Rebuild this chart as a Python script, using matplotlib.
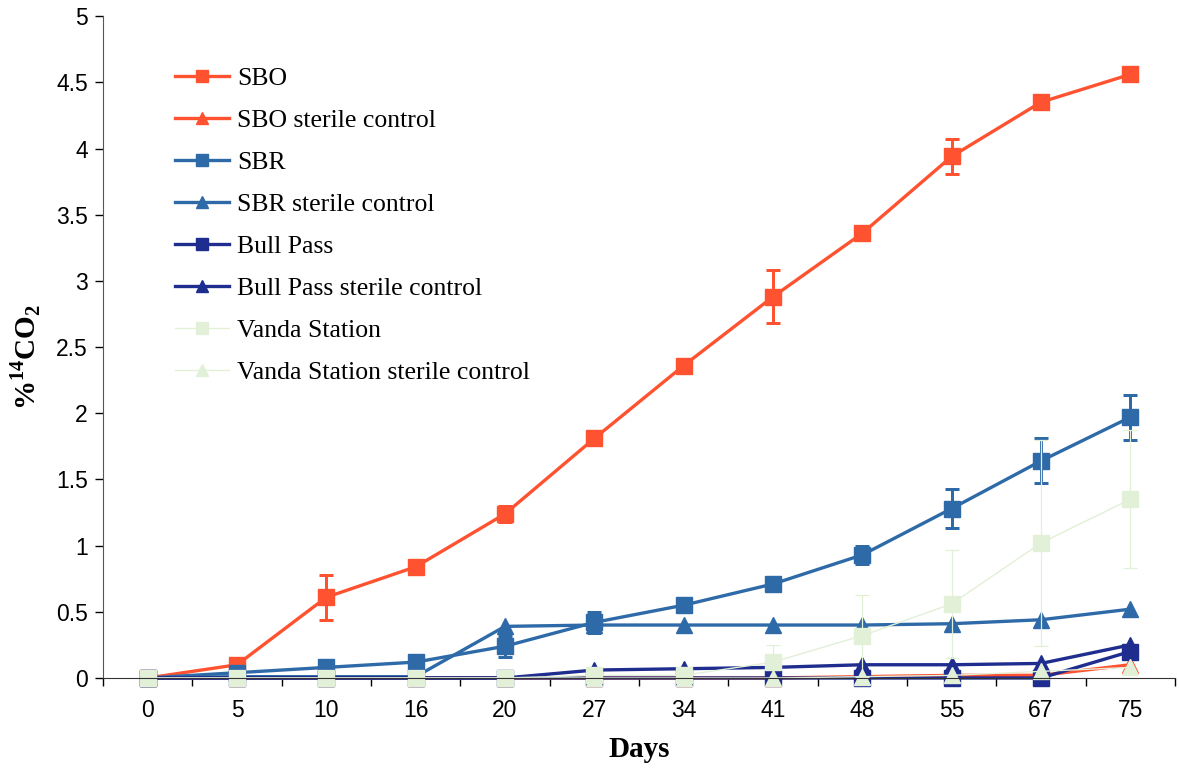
import numpy as np
import matplotlib
matplotlib.use('Agg')
from matplotlib import pyplot as plt

days = ['0', '5', '10', '16', '20', '27', '34', '41', '48', '55', '67', '75']

sbo = [0, 0.10, 0.61, 0.84, 1.24, 1.81, 2.36, 2.88, 3.36, 3.94, 4.35, 4.56]
sbo_err = [0, 0, 0.17, 0, 0.06, 0, 0, 0.20, 0, 0.13, 0.03, 0]
sbo_ctrl = [0, 0, 0, 0, 0, 0, 0, 0, 0.01, 0.02, 0.02, 0.10]

sbr = [0, 0.04, 0.08, 0.12, 0.24, 0.42, 0.55, 0.71, 0.93, 1.28, 1.64, 1.97]
sbr_err = [0, 0, 0, 0, 0.08, 0.08, 0, 0, 0.07, 0.15, 0.17, 0.17]
sbr_ctrl = [0, 0.01, 0.01, 0.01, 0.39, 0.40, 0.40, 0.40, 0.40, 0.41, 0.44, 0.52]

bull = [0, 0, 0, 0, 0, 0, 0, 0, 0, 0, 0, 0.20]
bull_ctrl = [0, 0, 0, 0, 0, 0.06, 0.07, 0.08, 0.10, 0.10, 0.11, 0.25]

vanda = [0, 0, 0, 0, 0, 0.02, 0.02, 0.12, 0.32, 0.56, 1.02, 1.35]
vanda_err = [0, 0, 0, 0, 0, 0, 0, 0.13, 0.31, 0.41, 0.78, 0.52]
vanda_ctrl = [0, 0, 0, 0, 0, 0, 0, 0, 0.01, 0.02, 0.05, 0.08]

yticks = [0, 0.5, 1, 1.5, 2, 2.5, 3, 3.5, 4, 4.5, 5]

plt.rcParams['mathtext.fontset'] = 'custom'
plt.rcParams['mathtext.rm'] = 'Liberation Serif'
plt.rcParams['mathtext.bf'] = 'Liberation Serif:bold'

orange = '#ff5230'
blue = '#2f6aa8'
navy = '#1f2d8f'
pale = '#e3f0d8'

fig = plt.figure(figsize=(11.79, 7.68), dpi=100)
ax = fig.add_axes([0.0874, 0.1172, 0.9092, 0.8618])
x = np.arange(len(days))

series = [
	('SBO', sbo, sbo_err, orange, 's', 2.4),
	('SBO sterile control', sbo_ctrl, None, orange, '^', 2.4),
	('SBR', sbr, sbr_err, blue, 's', 2.4),
	('SBR sterile control', sbr_ctrl, None, blue, '^', 2.4),
	('Bull Pass', bull, None, navy, 's', 2.4),
	('Bull Pass sterile control', bull_ctrl, None, navy, '^', 2.4),
	('Vanda Station', vanda, vanda_err, pale, 's', 1.0),
	('Vanda Station sterile control', vanda_ctrl, None, pale, '^', 1.0),
]

for name, vals, err, col, mk, lw in series:
	if err is not None:
		ax.errorbar(x, vals, yerr=err, fmt='none', ecolor=col,
			elinewidth=lw * 0.9, capsize=5, capthick=lw * 0.9)
	ax.plot(x, vals, color=col, marker=mk, markersize=11, linewidth=lw,
		label=name, clip_on=False)

ax.set_xlim(-0.5, len(days) - 0.5)
ax.set_ylim(0, 5)
ax.set_xticks(x)
ax.set_xticklabels(days)
ax.set_xticks(np.arange(-0.5, len(days), 1), minor=True)
ax.tick_params(axis='x', which='major', length=0, pad=15)
ax.tick_params(axis='x', which='minor', length=6, direction='out', width=1)
ax.set_yticks(yticks)
ax.set_yticklabels(['{:g}'.format(v) for v in yticks])
ax.tick_params(axis='y', length=6, direction='out', width=1, pad=5)
for lab in ax.get_xticklabels() + ax.get_yticklabels():
	lab.set_fontfamily('Liberation Sans')
	lab.set_fontsize(16.5)

ax.spines['right'].set_color('none')
ax.spines['top'].set_color('none')
ax.spines['left'].set_color('#555555')
ax.spines['bottom'].set_color('#333333')

ax.set_xlabel('Days', fontfamily='Liberation Serif', fontweight='bold',
	fontsize=21, labelpad=10)
ax.set_ylabel(r'%$^{\mathbf{14}}$CO$_{\mathbf{2}}$', fontfamily='Liberation Serif',
	fontweight='bold', fontsize=21)
ax.yaxis.set_label_coords(-0.056, 0.485)

leg = ax.legend(loc='upper left', bbox_to_anchor=(0.046, 0.958), frameon=False,
	prop={'family': 'Liberation Serif', 'size': 18.5}, labelspacing=0.74,
	handlelength=2.1, handletextpad=0.3, markerscale=0.8)

fig.savefig('out.png', dpi=100)
